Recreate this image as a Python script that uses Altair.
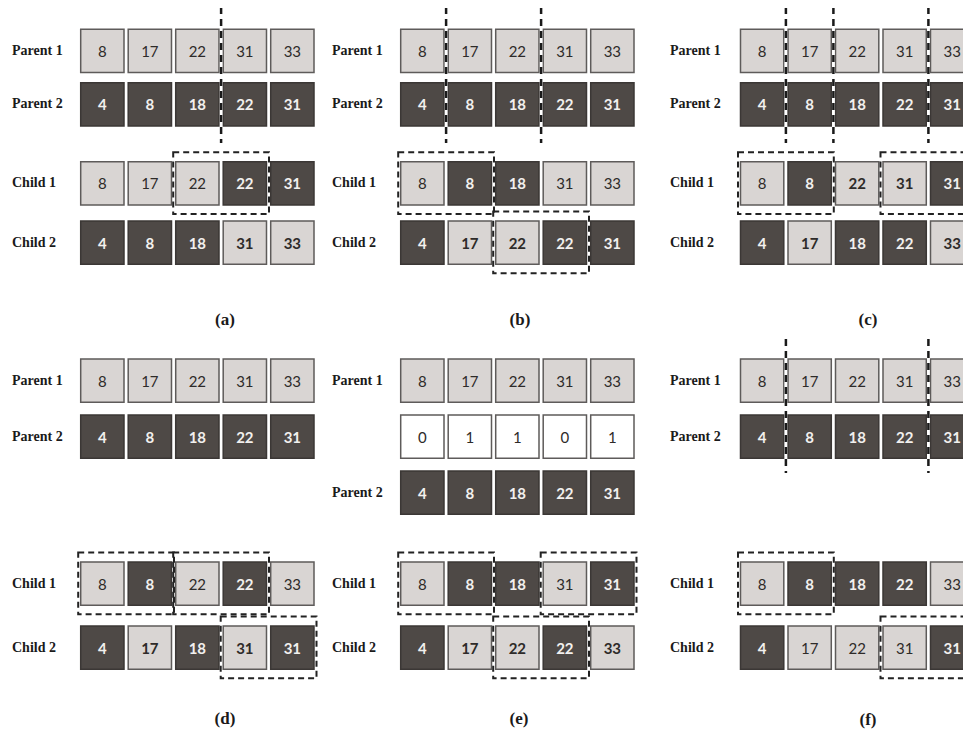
import altair as alt
import pandas as pd

# ---------------- data ----------------
PARENT1 = [8, 17, 22, 31, 33]
PARENT2 = [4, 8, 18, 22, 31]
MASK = [0, 1, 1, 0, 1]

PANELS = ["a", "b", "c", "d", "e", "f"]
CHILD1 = {
    "a": [8, 17, 22, 22, 31], "b": [8, 8, 18, 31, 33], "c": [8, 8, 22, 31, 31],
    "d": [8, 8, 22, 22, 33], "e": [8, 8, 18, 31, 31], "f": [8, 8, 18, 22, 33],
}
CHILD1_SRC = {"a": "LLLDD", "b": "LDDLL", "c": "LDLLD", "d": "LDLDL", "e": "LDDLD", "f": "LDDDL"}
CHILD2 = {
    "a": [4, 8, 18, 31, 33], "b": [4, 17, 22, 22, 31], "c": [4, 17, 18, 22, 33],
    "d": [4, 17, 18, 31, 31], "e": [4, 17, 22, 22, 33], "f": [4, 17, 22, 31, 31],
}
CHILD2_SRC = {"a": "DDDLL", "b": "DLLDD", "c": "DLDDL", "d": "DLDLD", "e": "DLLDL", "f": "DLLLD"}
CHILD1_BOLD = {"a": [], "b": [], "c": [2, 3], "d": [], "e": [], "f": []}
CHILD2_BOLD = {"a": [3, 4], "b": [1, 2], "c": [1, 4], "d": [1, 3], "e": [1, 2, 4], "f": []}
CUTS = {"a": [3], "b": [1, 3], "c": [1, 2, 4], "d": [], "e": [], "f": [1, 4]}
BOXES = {
    "a": [("Child 1", 2, 3)],
    "b": [("Child 1", 0, 1), ("Child 2", 2, 3)],
    "c": [("Child 1", 0, 1), ("Child 1", 3, 4)],
    "d": [("Child 1", 0, 1), ("Child 1", 2, 3), ("Child 2", 3, 4)],
    "e": [("Child 1", 0, 1), ("Child 1", 3, 4), ("Child 2", 2, 3)],
    "f": [("Child 1", 0, 1), ("Child 2", 3, 4)],
}

# ---------------- layout ----------------
CELL_X0 = {"a": 80.7, "b": 400.7, "c": 740.5, "d": 80.7, "e": 400.7, "f": 740.5}
LABEL_X = {"a": 12, "b": 332, "c": 670, "d": 12, "e": 332, "f": 670}
CAPTION = {"a": (225, 320), "b": (520, 320), "c": (868, 320),
           "d": (225, 719), "e": (519, 719), "f": (868, 720)}
TOP_ROWS = {"Parent 1": 29.3, "Parent 2": 82.7, "Child 1": 161.7, "Child 2": 221.0}
BOT_ROWS = {"Parent 1": 359.0, "Parent 2": 415.0, "Child 1": 562.0, "Child 2": 626.0}
E_ROWS = {"Parent 1": 359.0, "Mask": 415.0, "Parent 2": 471.0, "Child 1": 562.0, "Child 2": 626.0}
ROWS = {"a": TOP_ROWS, "b": TOP_ROWS, "c": TOP_ROWS, "d": BOT_ROWS, "e": E_ROWS, "f": BOT_ROWS}
CUT_Y = {"a": (7, 143), "b": (7, 143), "c": (7, 143), "f": (339, 473)}
PITCH = 47.5
W = 43.3

LIGHT_FILL, LIGHT_STROKE, LIGHT_TEXT = "#d9d5d3", "#5e5b5a", "#2e2b29"
DARK_FILL, DARK_STROKE, DARK_TEXT = "#4e4946", "#3b3735", "#f2f0ee"
WHITE_FILL, WHITE_STROKE = "#ffffff", "#5e5b5a"

cells, labels = [], []
for p in PANELS:
    rows = ROWS[p]
    for rname, top in rows.items():
        if rname == "Parent 1":
            vals, src, bold = PARENT1, "LLLLL", []
        elif rname == "Parent 2":
            vals, src, bold = PARENT2, "DDDDD", []
        elif rname == "Mask":
            vals, src, bold = MASK, "WWWWW", []
        elif rname == "Child 1":
            vals, src, bold = CHILD1[p], CHILD1_SRC[p], CHILD1_BOLD[p]
        else:
            vals, src, bold = CHILD2[p], CHILD2_SRC[p], CHILD2_BOLD[p]
        for i, v in enumerate(vals):
            x = CELL_X0[p] + i * PITCH
            s = src[i]
            fill = {"L": LIGHT_FILL, "D": DARK_FILL, "W": WHITE_FILL}[s]
            stroke = {"L": LIGHT_STROKE, "D": DARK_STROKE, "W": WHITE_STROKE}[s]
            tcol = DARK_TEXT if s == "D" else LIGHT_TEXT
            cells.append(dict(x=x, x2=x + W, y=top, y2=top + W, xc=x + W / 2, yc=top + W / 2 + 1,
                              fill=fill, stroke=stroke, label=str(v), tcol=tcol,
                              weight="bold" if (i in bold or s == "D") else "normal"))
        if rname != "Mask":
            labels.append(dict(x=LABEL_X[p], y=top + W / 2, label=rname))

cells = pd.DataFrame(cells)
labels = pd.DataFrame(labels)

cuts = []
for p, ks in CUTS.items():
    for k in ks:
        cx = CELL_X0[p] + k * PITCH - (PITCH - W) / 2
        y0, y1 = CUT_Y[p]
        cuts.append(dict(x=cx, y=y0, y2=y1))
cuts = pd.DataFrame(cuts)

boxes = []
for p, bl in BOXES.items():
    for rname, s, e in bl:
        top = ROWS[p][rname]
        boxes.append(dict(x=CELL_X0[p] + s * PITCH - 2.5, x2=CELL_X0[p] + e * PITCH + W + 2.5,
                          y=top - 9.5, y2=top + W + 9))
boxes = pd.DataFrame(boxes)

caps = pd.DataFrame([dict(x=CAPTION[p][0], y=CAPTION[p][1], label=f"({p})") for p in PANELS])

# ---------------- chart ----------------
XS = alt.Scale(domain=[8, 963], nice=False, zero=False)
YS = alt.Scale(domain=[8, 730], reverse=True, nice=False, zero=False)

rects = alt.Chart(cells).mark_rect(strokeWidth=1.5, clip=True).encode(
    x=alt.X("x:Q", scale=XS, axis=None), x2="x2:Q",
    y=alt.Y("y:Q", scale=YS, axis=None), y2="y2:Q",
    fill=alt.Fill("fill:N", scale=None), stroke=alt.Stroke("stroke:N", scale=None),
)

cut_white = alt.Chart(cuts).mark_rule(color="white", strokeWidth=2.5).encode(
    x=alt.X("x:Q", scale=XS, axis=None), y=alt.Y("y:Q", scale=YS, axis=None), y2="y2:Q")
cut_black = alt.Chart(cuts).mark_rule(color="#1a1a1a", strokeWidth=2.5, strokeDash=[7, 5]).encode(
    x=alt.X("x:Q", scale=XS, axis=None), y=alt.Y("y:Q", scale=YS, axis=None), y2="y2:Q")

box_marks = alt.Chart(boxes).mark_rect(fillOpacity=0, stroke="#222222", strokeWidth=2,
                                       strokeDash=[6, 4], clip=True).encode(
    x=alt.X("x:Q", scale=XS, axis=None), x2="x2:Q",
    y=alt.Y("y:Q", scale=YS, axis=None), y2="y2:Q")

def cell_text(weight):
    return alt.Chart(cells).transform_filter(alt.datum.weight == weight).mark_text(
        font="Lato", fontSize=15, fontWeight=weight, baseline="middle", align="center", clip=True
    ).encode(
        x=alt.X("xc:Q", scale=XS, axis=None), y=alt.Y("yc:Q", scale=YS, axis=None),
        text="label:N", color=alt.Color("tcol:N", scale=None))

row_labels = alt.Chart(labels).mark_text(
    font="Liberation Serif", fontSize=14, fontWeight="bold", align="left", baseline="middle",
    color="#1a1a1a").encode(
    x=alt.X("x:Q", scale=XS, axis=None), y=alt.Y("y:Q", scale=YS, axis=None), text="label:N")

captions = alt.Chart(caps).mark_text(
    font="Liberation Serif", fontSize=17, fontWeight="bold", align="center", baseline="middle",
    color="#1a1a1a").encode(
    x=alt.X("x:Q", scale=XS, axis=None), y=alt.Y("y:Q", scale=YS, axis=None), text="label:N")

chart = alt.layer(
    rects, cut_white, cut_black, box_marks, cell_text("normal"), cell_text("bold"),
    row_labels, captions
).properties(
    width=955, height=722, padding=0, autosize=alt.AutoSizeParams(type="none"),
    background="white"
).configure_view(strokeWidth=0)

chart.save("out.html", embed_options={"renderer": "svg", "actions": False})
